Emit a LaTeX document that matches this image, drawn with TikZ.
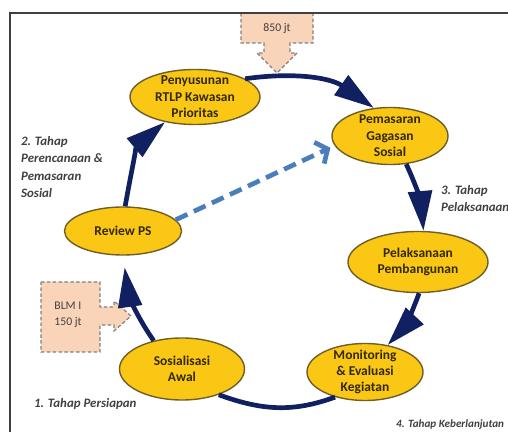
\documentclass[tikz,border=0pt]{standalone}
\usepackage{fontspec}
\setmainfont{Carlito}
\usetikzlibrary{shapes.geometric,arrows.meta}

\definecolor{navy}{RGB}{16,32,96}
\definecolor{stagefill}{RGB}{250,200,20}
\definecolor{stageline}{RGB}{110,95,40}
\definecolor{stagetext}{RGB}{50,40,5}
\definecolor{peach}{RGB}{250,212,184}
\definecolor{hintblue}{RGB}{74,126,187}
\definecolor{labelgray}{RGB}{64,64,64}

\tikzset{
  stage/.style={ellipse, draw=stageline, line width=1.2pt, fill=stagefill, inner sep=0pt},
  stagetxt/.style={align=center, font=\fontsize{11.5}{14}\selectfont\bfseries, text=stagetext},
  flow/.style={draw=navy, line width=4pt, -{Triangle[length=34pt,width=20pt]}},
  hint/.style={draw=hintblue, line width=4pt, dash pattern=on 11pt off 6pt,
    -{Straight Barb[length=8pt,width=20pt]}},
  phase/.style={font=\fontsize{11}{15}\selectfont\bfseries\itshape, text=labelgray, align=left},
  callout/.style={draw=gray, dash pattern=on 3pt off 2pt, line width=1pt, fill=peach},
  calltxt/.style={font=\fontsize{10}{14}\selectfont, text=labelgray, align=left},
}

\begin{document}
\begin{tikzpicture}[x=0.03cm, y=0.03cm]
    \useasboundingbox (0,0) rectangle (508,432);
    % dana callouts
    \draw[callout] (241,419) -- (241,389) -- (264,389) -- (264,379) -- (257,379) -- (277,359)
        -- (297,379) -- (290,379) -- (290,389) -- (313,389) -- (313,419) -- cycle;
    \node[calltxt] (dana) at (277,404) {850 jt};
    \draw[callout] (41,150) -- (100,150) -- (100,125) -- (114,125) -- (114,131) -- (131,116)
        -- (114,101) -- (114,107) -- (100,107) -- (100,80) -- (41,80) -- cycle;
    \node[calltxt] (blm) at (68,117) {BLM I\\150 jt};
    % frame
    \draw[labelgray, line width=1pt] (508,419) -- (10,419) -- (10,0);
    % stages
    \node[stage, minimum width=3.9cm, minimum height=1.65cm,
        label={[stagetxt]center:Penyusunan\\RTLP Kawasan\\Prioritas}] (pen) at (195,335) {};
    \node[stage, minimum width=3.48cm, minimum height=1.71cm,
        label={[stagetxt]center:Pemasaran\\Gagasan\\Sosial}] (pem) at (390,296) {};
    \node[stage, minimum width=3.51cm, minimum height=1.44cm,
        label={[stagetxt]center:Review PS}] (rev) at (123,201) {};
    \node[stage, minimum width=4.2cm, minimum height=1.83cm,
        label={[stagetxt]center:Pelaksanaan\\Pembangunan}] (pel) at (418,170) {};
    \node[stage, minimum width=3.75cm, minimum height=1.86cm,
        label={[stagetxt]center:Sosialisasi\\Awal}] (sos) at (182,63) {};
    \node[stage, minimum width=3.48cm, minimum height=1.71cm,
        label={[stagetxt]center:Monitoring\\\& Evaluasi\\Kegiatan}] (mon) at (365,60) {};
    % cycle
    \draw[flow, shorten >=10pt] (sos.135) to[out=125, in=-82] (rev.south);
    \draw[flow] (rev.85) to[out=80, in=-140] (pen.220);
    \draw[flow] (pen.20) to[out=8, in=145] (pem.120);
    \draw[flow] (pem.-60) to[out=-65, in=95] (pel.80);
    \draw[flow] (pel.-88) to[out=-110, in=47] (mon.50);
    \draw[draw=navy, line width=4pt] (mon.220) to[out=-160, in=-20] (sos.-35);
    \draw[hint, shorten >=4pt] (rev.12) -- (pem.190);
    % phases
    \node[phase, anchor=north west] (tahap2) at (17,300) {2. Tahap\\Perencanaan \&\\Pemasaran\\Sosial};
    \node[phase, anchor=north west] (tahap3) at (437,251) {3. Tahap\\Pelaksanaan};
    \node[phase, anchor=west] (tahap1) at (30,28) {1. Tahap Persiapan};
    \node[phase, anchor=west, font=\fontsize{9.5}{12}\selectfont\bfseries\itshape] (tahap4) at (392,7) {4. Tahap Keberlanjutan};
\end{tikzpicture}
\end{document}
